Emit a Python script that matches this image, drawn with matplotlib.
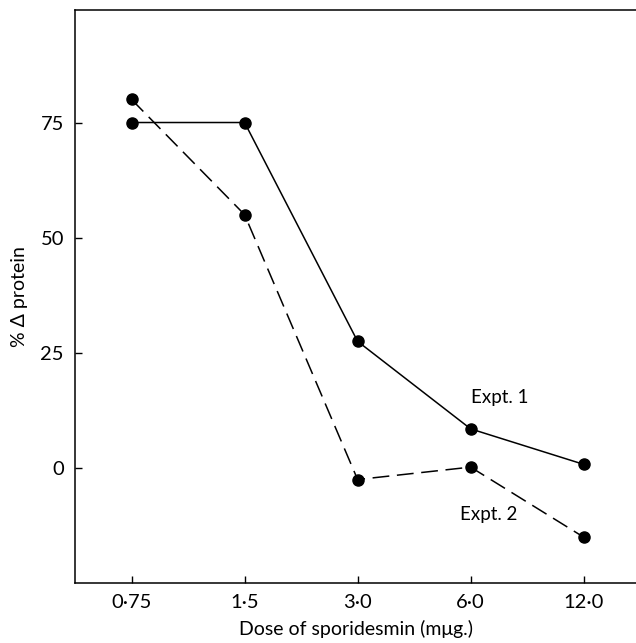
import matplotlib
matplotlib.use("Agg")
import matplotlib.pyplot as plt

# dose levels (mug) and % change in protein for two experiments
doses = ["0·75", "1·5", "3·0", "6·0", "12·0"]
expt1 = [75, 75, 27.5, 8.5, 0.8]
expt2 = [80, 55, -2.5, 0.2, -15]
yticks = [0, 25, 50, 75]

plt.rcParams['font.family'] = ['Lato', 'DejaVu Sans']

fig = plt.figure(figsize=(6.36, 6.43), dpi=100)
ax = fig.add_axes([0.118, 0.093, 0.885, 0.892])

pos = list(range(len(doses)))
ax.plot(pos, expt1, color='black', lw=1.1, marker='o', ms=8)
ax.plot(pos, expt2, color='black', lw=1.1, marker='o', ms=8,
        dashes=(11, 5))

ax.text(3.0, 15.4, "Expt. 1", fontsize=13.5, va='center')
ax.text(2.91, -10, "Expt. 2", fontsize=13.5, va='center')

ax.set_xlim(-0.5, 4.48)
ax.set_ylim(-25, 99.5)
ax.set_xticks(pos)
ax.set_xticklabels(doses, fontsize=14.5)
ax.set_yticks(yticks)
ax.set_yticklabels([str(v) for v in yticks], fontsize=14.5)
ax.tick_params(direction='in', length=5, width=1, pad=8)

ax.spines['right'].set_visible(False)
for s in ['left', 'bottom', 'top']:
    ax.spines[s].set_linewidth(1.1)

ax.set_xlabel("Dose of sporidesmin (m\u03bcg.)", fontsize=14, labelpad=6)
ax.set_ylabel("% \u0394 protein", fontsize=14)
ax.yaxis.set_label_coords(-0.083, 0.5)

fig.savefig("out.png", dpi=100)
